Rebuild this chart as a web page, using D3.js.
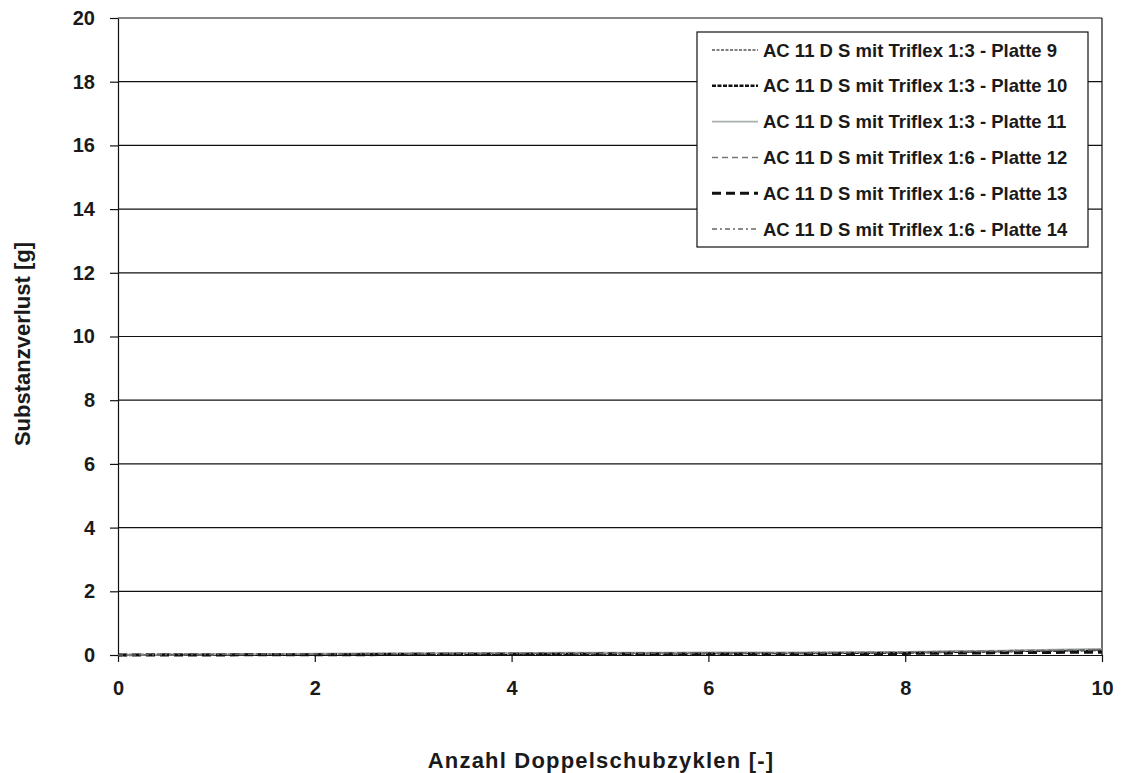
<!DOCTYPE html>
<html>
<head>
<meta charset="utf-8">
<script src="https://cdn.jsdelivr.net/npm/d3@7"></script>
<style>
  body { margin: 0; background: #fff; }
  text { font-family: "Liberation Sans", Arial, sans-serif; font-weight: bold; fill: #1a1a1a; }
</style>
</head>
<body>
<div id="chart"></div>
<script>
// data
const cycles = [0, 0.5, 1, 1.5, 2, 2.5, 3, 3.5, 4, 4.5, 5, 5.5, 6, 6.5, 7, 7.5, 8, 8.5, 9, 9.5, 10];
const platte9 = [0, 0, 0.01, 0.01, 0.02, 0.02, 0.03, 0.03, 0.03, 0.04, 0.04, 0.04, 0.05, 0.05, 0.05, 0.06, 0.07, 0.09, 0.11, 0.13, 0.15];
const platte10 = [0, 0.01, 0.01, 0.02, 0.02, 0.03, 0.03, 0.04, 0.04, 0.04, 0.05, 0.05, 0.05, 0.06, 0.06, 0.07, 0.08, 0.1, 0.12, 0.14, 0.16];
const platte11 = [0, 0.01, 0.02, 0.03, 0.04, 0.05, 0.05, 0.06, 0.06, 0.07, 0.07, 0.07, 0.08, 0.08, 0.08, 0.09, 0.1, 0.12, 0.14, 0.17, 0.19];
const platte12 = [0, 0, 0.01, 0.02, 0.03, 0.04, 0.05, 0.05, 0.05, 0.06, 0.06, 0.06, 0.06, 0.07, 0.07, 0.08, 0.09, 0.11, 0.13, 0.15, 0.17];
const platte13 = [0, 0, 0, 0.01, 0.01, 0.01, 0.02, 0.02, 0.02, 0.02, 0.03, 0.03, 0.03, 0.03, 0.03, 0.04, 0.05, 0.06, 0.07, 0.08, 0.09];
const platte14 = [0, 0.01, 0.02, 0.03, 0.03, 0.04, 0.04, 0.05, 0.05, 0.05, 0.05, 0.06, 0.06, 0.06, 0.06, 0.07, 0.08, 0.1, 0.12, 0.14, 0.16];
const seriesNames = [
  "AC 11 D S mit Triflex 1:3 - Platte 9",
  "AC 11 D S mit Triflex 1:3 - Platte 10",
  "AC 11 D S mit Triflex 1:3 - Platte 11",
  "AC 11 D S mit Triflex 1:6 - Platte 12",
  "AC 11 D S mit Triflex 1:6 - Platte 13",
  "AC 11 D S mit Triflex 1:6 - Platte 14"
];
const xTicks = [0, 2, 4, 6, 8, 10];
const yTicks = [0, 2, 4, 6, 8, 10, 12, 14, 16, 18, 20];

const styles = [
  { color: "#555", width: 1.6, dash: "3,1.5" },
  { color: "#111", width: 2.4, dash: "4,1.5" },
  { color: "#a8b0ae", width: 1.8, dash: null },
  { color: "#777", width: 1.5, dash: "6,4" },
  { color: "#111", width: 3, dash: "9,5" },
  { color: "#666", width: 1.5, dash: "5,3,2,3" }
];

const MARGIN = { LEFT: 118, RIGHT: 23, TOP: 18, BOTTOM: 118 };
const WIDTH = 1125 - MARGIN.LEFT - MARGIN.RIGHT;
const HEIGHT = 773 - MARGIN.TOP - MARGIN.BOTTOM;

const svg = d3
  .select("#chart")
  .append("svg")
  .attr("width", 1125)
  .attr("height", 773);

const g = svg
  .append("g")
  .attr("transform", `translate(${MARGIN.LEFT}, ${MARGIN.TOP})`);

const x = d3.scaleLinear().domain([0, 10]).range([0, WIDTH]);
const y = d3.scaleLinear().domain([0, 20]).range([HEIGHT, 0]);

// grid lines
g.selectAll(".grid")
  .data(yTicks.filter((d) => d > 0))
  .enter()
  .append("line")
  .attr("x1", 0)
  .attr("x2", WIDTH)
  .attr("y1", (d) => y(d))
  .attr("y2", (d) => y(d))
  .attr("stroke", "#111")
  .attr("stroke-width", 1.2);

// right border
g.append("line")
  .attr("x1", WIDTH)
  .attr("x2", WIDTH)
  .attr("y1", 0)
  .attr("y2", HEIGHT)
  .attr("stroke", "#111")
  .attr("stroke-width", 1.2);

// axes
const xAxisGroup = g
  .append("g")
  .attr("transform", `translate(0, ${HEIGHT})`)
  .call(d3.axisBottom(x).tickValues(xTicks).tickSize(7).tickPadding(19).tickSizeOuter(0));

const yAxisGroup = g
  .append("g")
  .call(d3.axisLeft(y).tickValues(yTicks).tickSize(8).tickPadding(15).tickSizeOuter(0));

[xAxisGroup, yAxisGroup].forEach((ax) => {
  ax.select(".domain").attr("stroke", "#111").attr("stroke-width", 1.2);
  ax.selectAll(".tick line").attr("stroke", "#111").attr("stroke-width", 1.2);
  ax.selectAll(".tick text")
    .attr("font-size", "20px")
    .attr("font-family", "Liberation Sans, Arial, sans-serif")
    .attr("font-weight", "bold")
    .attr("fill", "#1a1a1a");
});

// lines
const allSeries = [platte9, platte10, platte11, platte12, platte13, platte14];
const line = d3
  .line()
  .x((d, i) => x(cycles[i]))
  .y((d) => y(d));

g.selectAll(".series")
  .data(allSeries)
  .enter()
  .append("path")
  .attr("d", (d) => line(d))
  .attr("fill", "none")
  .attr("stroke", (d, i) => styles[i].color)
  .attr("stroke-width", (d, i) => styles[i].width)
  .attr("stroke-dasharray", (d, i) => styles[i].dash);

// legend
const legend = svg.append("g").attr("transform", "translate(697, 32)");

legend
  .append("rect")
  .attr("width", 391)
  .attr("height", 215)
  .attr("fill", "#fff")
  .attr("stroke", "#111")
  .attr("stroke-width", 1.2);

const rows = legend
  .selectAll(".row")
  .data(seriesNames)
  .enter()
  .append("g")
  .attr("transform", (d, i) => `translate(0, ${18 + i * 35.8})`);

rows
  .append("line")
  .attr("x1", 15)
  .attr("x2", 61)
  .attr("y1", 0)
  .attr("y2", 0)
  .attr("stroke", (d, i) => styles[i].color)
  .attr("stroke-width", (d, i) => styles[i].width)
  .attr("stroke-dasharray", (d, i) => styles[i].dash);

rows
  .append("text")
  .attr("x", 66)
  .attr("y", 6.5)
  .attr("font-size", "18.5px")
  .text((d) => d);

// X label
svg.append("text")
  .attr("x", 601)
  .attr("y", 768)
  .attr("font-size", "22px")
  .attr("letter-spacing", "1.2px")
  .attr("text-anchor", "middle")
  .text("Anzahl Doppelschubzyklen [-]");

// Y label
svg.append("text")
  .attr("x", -344)
  .attr("y", 30)
  .attr("font-size", "22px")
  .attr("text-anchor", "middle")
  .attr("transform", "rotate(-90)")
  .text("Substanzverlust [g]");
</script>
</body>
</html>
